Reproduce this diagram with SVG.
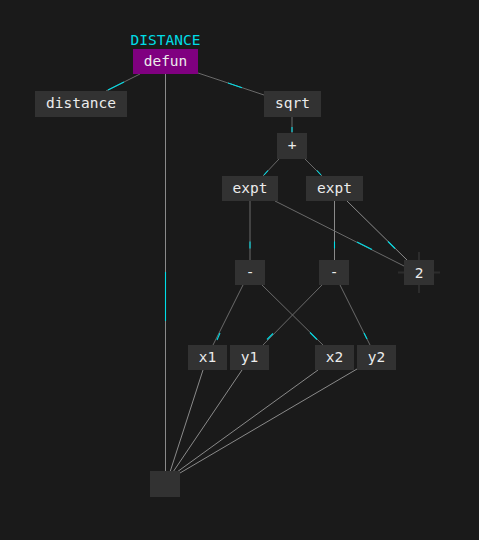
<svg xmlns="http://www.w3.org/2000/svg" width="479" height="540" viewBox="0 0 479 540">
<style>
.bg{fill:#1a1a1a}
.n{fill:#323232}
.t{font-family:"DejaVu Sans Mono",monospace;font-size:14.5px;fill:#ececec;text-anchor:middle}
.e{stroke:#6a6a6a;stroke-width:1;fill:none}
.e2{stroke:#8a8a8a;stroke-width:1;fill:none}
.c{stroke:#00dde6;stroke-width:1.1;fill:none}
.x{stroke:#2c2c2c;stroke-width:2}
</style>
<rect class="bg" x="0" y="0" width="479" height="540"/>
<g id="connectors">
<line class="e" x1="140" y1="74" x2="106" y2="91"/>
<line class="e" x1="198" y1="73" x2="264" y2="95"/>
<line class="e2" x1="165.5" y1="74" x2="165.5" y2="471"/>
<line class="e" x1="292" y1="117" x2="292" y2="133"/>
<line class="e" x1="279" y1="159" x2="263" y2="176"/>
<line class="e" x1="305" y1="159" x2="322" y2="176"/>
<line class="e" x1="250" y1="201" x2="250" y2="260"/>
<line class="e2" x1="334.5" y1="201" x2="334.5" y2="260"/>
<line class="e" x1="275" y1="201" x2="404" y2="266"/>
<line class="e2" x1="347" y1="201" x2="407" y2="260"/>
<line class="e" x1="243" y1="285" x2="213" y2="345"/>
<line class="e" x1="262" y1="285" x2="323" y2="345"/>
<line class="e" x1="322" y1="285" x2="263" y2="345"/>
<line class="e" x1="340" y1="285" x2="370" y2="345"/>
<line class="e2" x1="203" y1="370" x2="170" y2="472"/>
<line class="e2" x1="242" y1="370" x2="173" y2="472"/>
<line class="e2" x1="318" y1="370" x2="177" y2="472"/>
<line class="e2" x1="357" y1="369" x2="180" y2="473"/>
<line class="c" x1="124" y1="82" x2="108" y2="90"/>
<line class="c" x1="228" y1="83" x2="242" y2="87.7"/>
<line class="c" x1="292" y1="127" x2="292" y2="132"/>
<line class="c" x1="268" y1="170.5" x2="264" y2="175"/>
<line class="c" x1="317" y1="170.5" x2="321" y2="175"/>
<line class="c" x1="250" y1="241.5" x2="250" y2="248.5"/>
<line class="c" x1="334.5" y1="241.5" x2="334.5" y2="248.5"/>
<line class="c" x1="357" y1="242" x2="372" y2="249.5"/>
<line class="c" x1="388" y1="241.5" x2="395" y2="248.5"/>
<line class="c" x1="220" y1="333" x2="217" y2="340"/>
<line class="c" x1="310" y1="332.5" x2="317" y2="339.5"/>
<line class="c" x1="273" y1="333.5" x2="267" y2="339.5"/>
<line class="c" x1="364" y1="333" x2="367" y2="339"/>
<line class="c" x1="165.5" y1="272" x2="165.5" y2="321"/>
</g>
<text class="t" x="165.5" y="44.5" style="fill:#00dde6">DISTANCE</text>
<g id="defun"><rect x="133" y="49" width="65" height="25" fill="#800080"/><text class="t" x="165.5" y="66">defun</text></g>
<g id="distance"><rect class="n" x="35" y="91" width="92" height="26"/><text class="t" x="81" y="108">distance</text></g>
<g id="sqrt"><rect class="n" x="264" y="91" width="57" height="26"/><text class="t" x="292.5" y="108">sqrt</text></g>
<g id="plus"><rect class="n" x="277" y="133" width="30" height="26"/><text class="t" x="292" y="150">+</text></g>
<g id="expt1"><rect class="n" x="222" y="176" width="56" height="25"/><text class="t" x="250" y="193">expt</text></g>
<g id="expt2"><rect class="n" x="306" y="176" width="57" height="25"/><text class="t" x="334.5" y="193">expt</text></g>
<g id="minus1"><rect class="n" x="235" y="260" width="30" height="25"/><text class="t" x="250" y="277">-</text></g>
<g id="minus2"><rect class="n" x="319" y="260" width="30" height="25"/><text class="t" x="334" y="277">-</text></g>
<g id="two"><line class="x" x1="419" y1="252" x2="419" y2="293"/><line class="x" x1="398" y1="272.5" x2="440" y2="272.5"/><rect class="n" x="404" y="260" width="30" height="25"/><text class="t" x="419" y="278">2</text></g>
<g id="x1"><rect class="n" x="188" y="345" width="39" height="25"/><text class="t" x="207.5" y="362">x1</text></g>
<g id="y1"><rect class="n" x="230" y="345" width="39" height="25"/><text class="t" x="249.5" y="362">y1</text></g>
<g id="x2"><rect class="n" x="315" y="345" width="39" height="25"/><text class="t" x="334.5" y="362">x2</text></g>
<g id="y2"><rect class="n" x="357" y="345" width="39" height="25"/><text class="t" x="376.5" y="362">y2</text></g>
<g id="bottom"><rect class="n" x="150" y="471" width="30" height="26"/></g>
</svg>
